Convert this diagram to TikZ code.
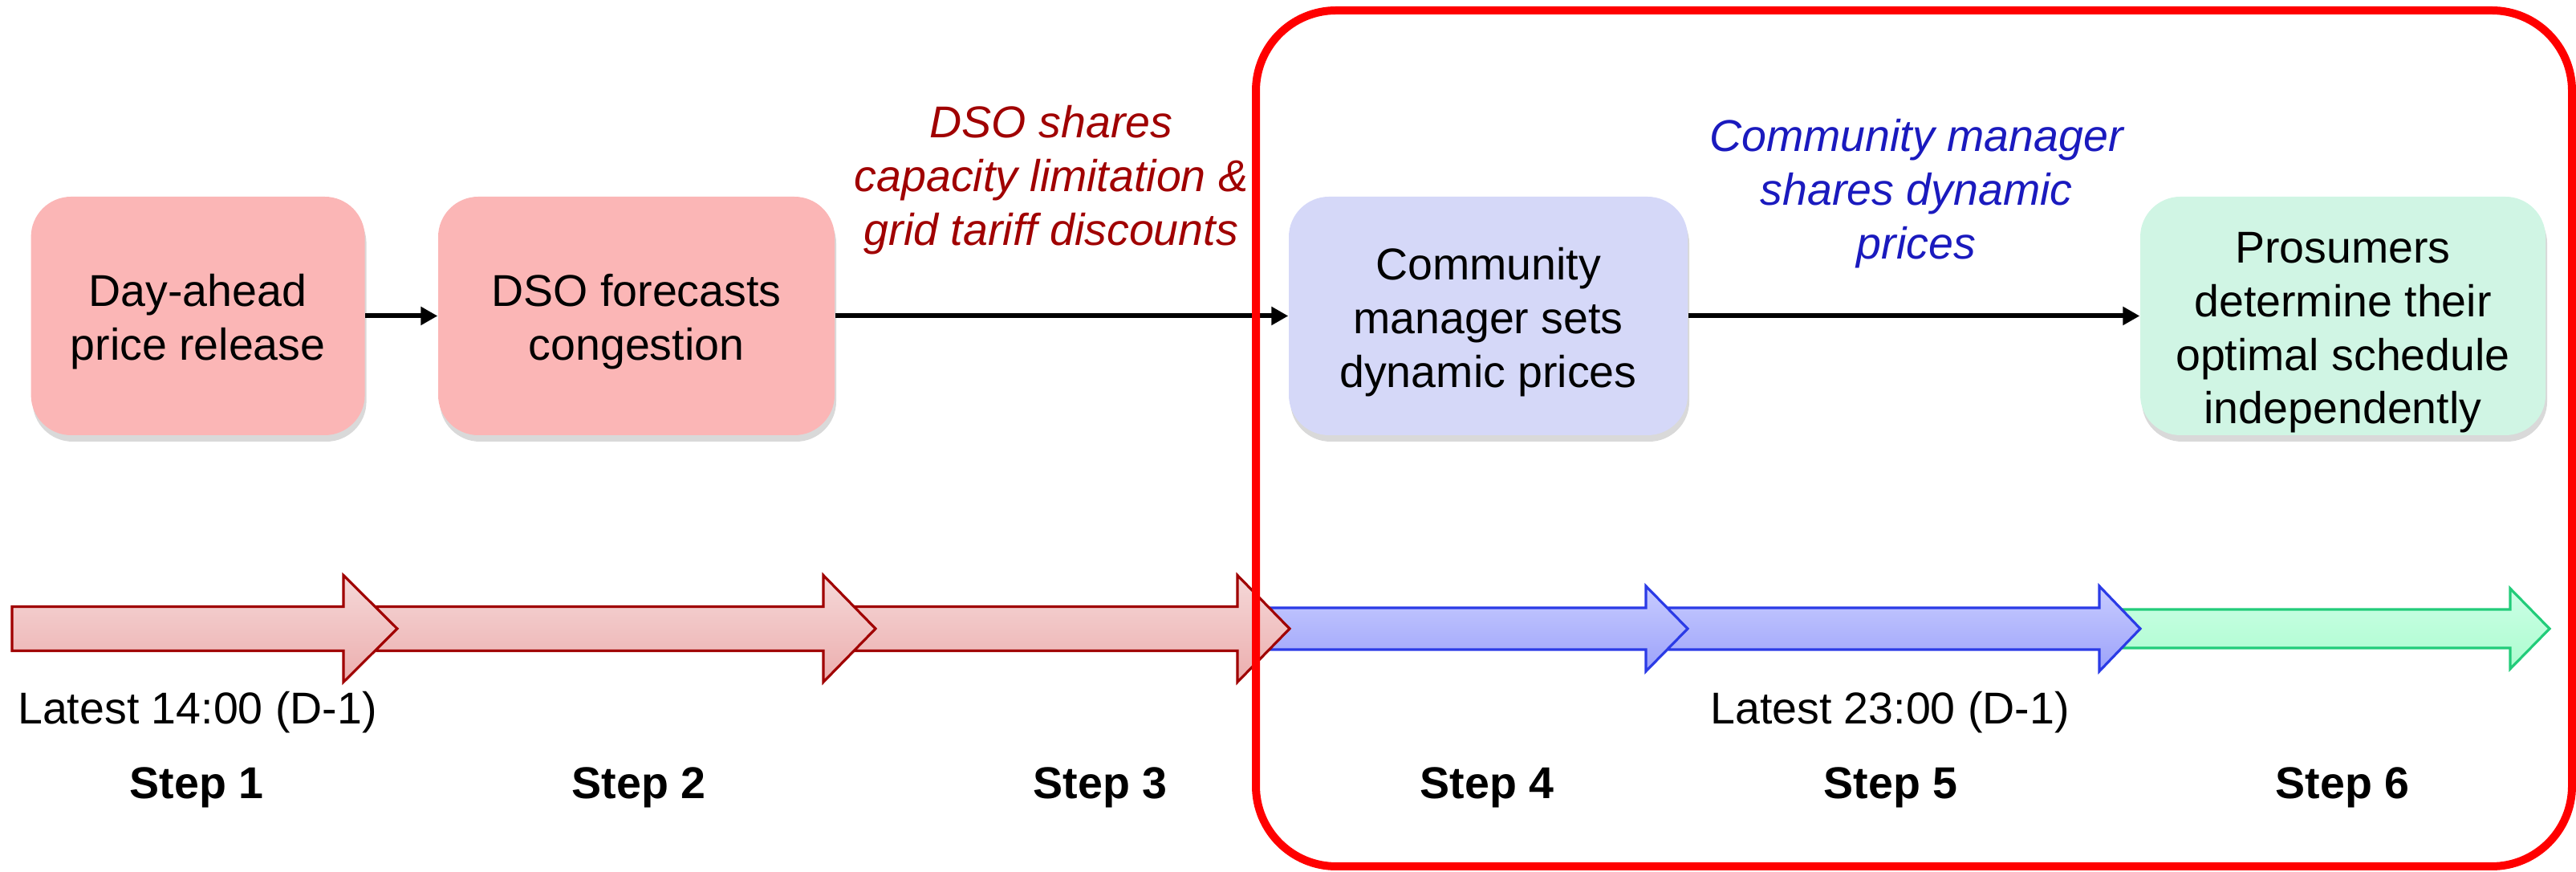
\documentclass[tikz,border=0pt]{standalone}
\usepackage{fontspec}
\setmainfont{Liberation Sans}
\usetikzlibrary{arrows.meta,shadows}
\definecolor{boxred}{HTML}{FBB6B6}
\definecolor{boxblue}{HTML}{D5D8F8}
\definecolor{boxgreen}{HTML}{D0F5E4}
\definecolor{dsored}{HTML}{A00000}
\definecolor{cmblue}{HTML}{1A1ABE}
\definecolor{redline}{HTML}{A00000}
\definecolor{redtop}{HTML}{F5D8D8}
\definecolor{redbot}{HTML}{ECAEAE}
\definecolor{blueline}{HTML}{2B3BE6}
\definecolor{bluetop}{HTML}{C8CCFF}
\definecolor{bluebot}{HTML}{9CA2FA}
\definecolor{greenline}{HTML}{22CC7A}
\definecolor{greentop}{HTML}{CCFFE6}
\definecolor{greenbot}{HTML}{ACFCCF}
\tikzset{
  stepbox/.style={rounded corners=0.5cm, minimum height=2.97cm, inner ysep=0pt, align=center,
    font=\fontsize{15.8}{19}\selectfont,
    drop shadow={shadow xshift=0.02cm, shadow yshift=-0.08cm, opacity=0.3}},
  flow/.style={line width=1.7pt, -{Triangle[length=0.21cm,width=0.22cm]}},
  sharetext/.style={align=center, font=\fontsize{15.8}{19}\selectfont\itshape},
  timetext/.style={anchor=base, font=\fontsize{15.8}{19}\selectfont},
  steplabel/.style={anchor=base, font=\fontsize{15.8}{19}\selectfont\bfseries}
}
% x start, x head base, x tip, shaft half width, head half width, colour
\newcommand{\timearrow}[6]{%
  \draw[line width=0.9pt, draw=#6line, top color=#6top, bottom color=#6bot]
    (#1,3.03+#4) -- (#2,3.03+#4) -- (#2,3.03+#5) -- (#3,3.03)
    -- (#2,3.03-#5) -- (#2,3.03-#4) -- (#1,3.03-#4) -- cycle;}
\begin{document}
\begin{tikzpicture}
\useasboundingbox (0,0) rectangle (32.1,10.86);
\timearrow{26.40}{31.28}{31.77}{0.24}{0.50}{green}
\timearrow{20.80}{26.16}{26.67}{0.26}{0.53}{blue}
\timearrow{15.80}{20.51}{21.03}{0.26}{0.53}{blue}
\timearrow{10.60}{15.42}{16.07}{0.275}{0.665}{red}
\timearrow{4.70}{10.26}{10.91}{0.275}{0.665}{red}
\timearrow{0.15}{4.28}{4.95}{0.275}{0.665}{red}

\node[stepbox, fill=boxred, minimum width=4.16cm] (dayahead) at (2.466,6.925) {\rule{0pt}{0.55cm}Day-ahead\\price release};
\node[stepbox, fill=boxred, minimum width=4.94cm] (forecast) at (7.93,6.925) {\rule{0pt}{0.55cm}DSO forecasts\\congestion};
\node[stepbox, fill=boxblue, minimum width=4.97cm] (setprice) at (18.545,6.925) {\rule{0pt}{0.55cm}Community\\manager sets\\dynamic prices};
\node[stepbox, fill=boxgreen, minimum width=5.05cm] (schedule) at (29.195,6.925) {\rule{0pt}{0.8cm}Prosumers\\determine their\\optimal schedule\\independently};

\draw[flow] (dayahead.east) -- (forecast.west);
\draw[flow] (forecast.east) -- (setprice.west);
\draw[flow] (setprice.east) -- (schedule.west);

\node[sharetext, text=dsored] (dsoshares) at (13.10,8.62) {DSO shares\\capacity limitation \&\\grid tariff discounts};
\node[sharetext, text=cmblue] (cmshares) at (23.88,8.45) {Community manager\\shares dynamic\\prices};

\node[timetext] (latestdso) at (2.46,1.84) {Latest 14:00 (D-1)};
\node[timetext] (latestcm) at (23.55,1.84) {Latest 23:00 (D-1)};
\foreach \x/\n in {2.45/1, 7.96/2, 13.71/3, 18.53/4, 23.56/5, 29.19/6}
  \node[steplabel] (step\n) at (\x,0.91) {Step \n};

\draw[red, line width=0.1cm, rounded corners=1cm] (15.65,0.07) rectangle (32.05,10.73);
\end{tikzpicture}
\end{document}
